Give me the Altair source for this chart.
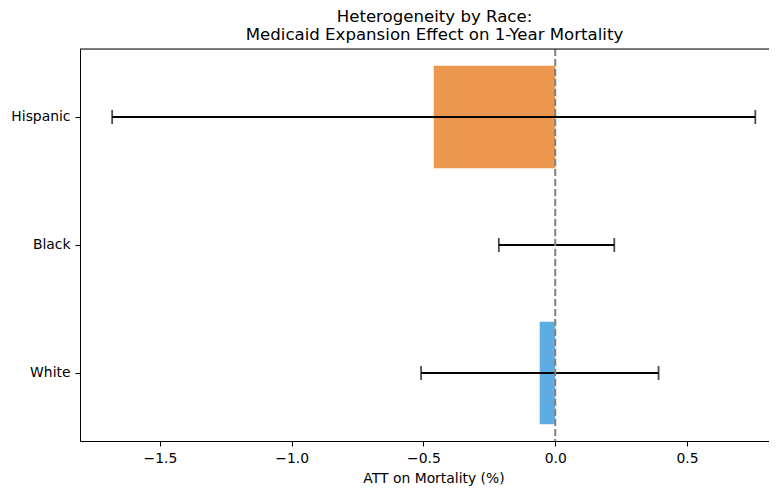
import altair as alt
import pandas as pd

races = ["White", "Black", "Hispanic"]
att = [-0.059, -0.001, -0.461]
ci_lo = [-0.509, -0.214, -1.681]
ci_hi = [0.392, 0.224, 0.759]
bar_colors = ["#3498db", "#2ecc71", "#e67e22"]
order = ["Hispanic", "Black", "White"]
x_ticks = [-1.5, -1.0, -0.5, 0.0, 0.5]

df = pd.DataFrame({"race": races, "att": att, "lo": ci_lo, "hi": ci_hi})

FONT = "DejaVu Sans"
W, H = 689, 392

y_enc = alt.Y(
    "race:N",
    sort=order,
    scale=alt.Scale(paddingInner=0.2, paddingOuter=0.13125),
    axis=alt.Axis(title=None, labelFont=FONT, labelFontSize=13.9, labelColor="black",
                  domainColor="black", tickColor="black", tickSize=5, labelPadding=5),
)
x_scale = alt.Scale(domain=[-1.803, 0.811], nice=False, zero=False)
x_axis = alt.Axis(
    values=x_ticks, format=".1f", title="ATT on Mortality (%)", grid=False,
    labelFont=FONT, labelFontSize=13.9, labelColor="black", titleFont=FONT,
    titleFontSize=13.9, titleFontWeight="normal", titleColor="black",
    domainColor="black", tickColor="black", tickSize=5, labelPadding=5.5,
    titleX=353.5, titleY=41.7, titleBaseline="alphabetic", titleAlign="center",
)

base = alt.Chart(df)

bars = base.mark_bar(opacity=0.8).encode(
    x=alt.X("att:Q", scale=x_scale, axis=x_axis),
    y=y_enc,
    color=alt.Color("race:N", scale=alt.Scale(domain=races, range=bar_colors), legend=None),
)

err = base.mark_rule(color="black", strokeWidth=1.8).encode(
    x="lo:Q", x2="hi:Q", y=alt.Y("race:N", sort=order)
)
cap_lo = base.mark_tick(color="black", thickness=1.8, size=14, orient="vertical").encode(
    x="lo:Q", y=alt.Y("race:N", sort=order)
)
cap_hi = base.mark_tick(color="black", thickness=1.8, size=14, orient="vertical").encode(
    x="hi:Q", y=alt.Y("race:N", sort=order)
)
zero = alt.Chart(pd.DataFrame({"z": [0.0]})).mark_rule(
    color="#808080", strokeDash=[7, 3], strokeWidth=2
).encode(x="z:Q")
top_spine = alt.Chart(pd.DataFrame({"s": [0]})).mark_rule(color="black", strokeWidth=1).encode(
    x=alt.value(0), x2=alt.value(W), y=alt.value(0)
)

chart = (
    alt.layer(bars, err, cap_lo, cap_hi, zero, top_spine)
    .properties(
        width=W,
        height=H,
        autosize="none",
        padding={"left": 72, "top": 41, "right": 0, "bottom": 50},
        title=alt.TitleParams(
            ["Heterogeneity by Race:", "Medicaid Expansion Effect on 1-Year Mortality"],
            font=FONT, fontSize=16.6, fontWeight="normal", color="black",
            anchor="middle", dx=10, offset=4.5, lineHeight=18,
        ),
    )
    .configure_view(stroke=None)
    .configure(background="white")
)

chart.save("out.html", embed_options={"renderer": "svg", "actions": False})
